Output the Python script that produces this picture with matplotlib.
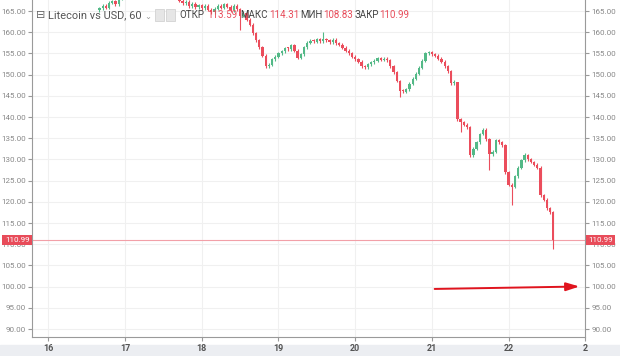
import numpy as np
import matplotlib.pyplot as plt
from matplotlib.patches import Rectangle

# hourly closes, LTC/USD, starting day 16 at 16:00
start_day = 16 + 16 / 24
closes = [
    165.6, 166.3, 165.8, 166.9, 167.3, 166.6,
    167.9, 168.5, 168.2, 169.0, 169.4, 168.8, 169.6, 170.1, 169.5, 170.3,
    170.8, 170.2, 169.7, 170.4, 169.9, 169.1, 169.6, 168.7, 168.1, 167.4,
    166.8, 167.2, 166.1, 166.7, 165.9, 166.4, 165.6, 166.2, 165.3,
    164.7, 165.5, 166.2, 165.8, 166.6, 166.0, 165.2, 166.3, 165.4, 163.9, 164.6,
    163.0, 161.8, 159.8, 158.1, 156.5, 154.4, 152.0,
    152.3, 153.6, 154.2, 155.0, 155.5, 156.2, 156.0, 156.9,
    155.6, 154.0, 154.8,
    156.5, 157.5, 158.0, 157.8, 158.3, 157.9, 158.4,
    158.1, 157.6, 158.2, 157.4, 157.0,
    156.3, 155.6, 155.0, 154.2, 153.6, 153.0,
    152.0, 151.7, 152.4, 152.9,
    153.3, 153.9, 153.5, 153.8, 153.4,
    152.0, 150.6, 148.5, 146.2, 146.0,
    146.6, 147.8, 149.0, 150.2, 151.6,
    153.3, 155.0, 155.3, 154.8,
    154.5, 153.8, 153.0, 152.0, 150.8, 148.0,
    148.3, 139.5, 138.8, 138.2, 137.6, 131.0, 132.5, 134.0, 136.0, 137.0,
    134.8, 131.2, 131.8, 134.5, 134.0, 133.4, 127.0, 124.0, 123.6, 126.0,
    128.0, 129.8, 131.0, 130.0, 129.4, 128.8, 128.0, 121.5, 120.5, 118.5,
    117.6, 110.99,
]
first_open = 165.2
long_lows = {44: 160.5, 94: 144.8, 113: 136.5, 122: 127.5, 129: 119.2, 142: 108.83}
long_highs = {70: 160.0, 112: 141.5, 133: 131.6}

last_price = 110.99
day_ticks = [16, 17, 18, 19, 20, 21, 22, 23]
day_labels = ['16', '17', '18', '19', '20', '21', '22', '2']
price_ticks = np.arange(90, 166, 5)

# hint arrow (drawn on the screenshot)
arrow_from = (21.0, 99.45)
arrow_to = (22.96, 100.05)

up_col = '#53b987'
down_col = '#eb4d5c'
hdr_font = 'Roboto'

c = np.array(closes)
o = np.concatenate([[first_open], c[:-1]])
t = start_day + np.arange(len(c)) / 24
hi = np.maximum(o, c) + 0.35
lo = np.minimum(o, c) - 0.35
for k, v in long_lows.items():
    lo[k] = v
for k, v in long_highs.items():
    hi[k] = v
cols = [up_col if cc >= oo else down_col for oo, cc in zip(o, c)]

fig = plt.figure(figsize=(6.2, 3.56), dpi=100)
fig.patches.append(Rectangle((0, 0), 1, 0.03, transform=fig.transFigure,
                             color='#eceef2', zorder=-5))
ax = fig.add_axes([0.052, 0.053, 0.892, 0.947])

ax.vlines(t, lo, hi, colors=cols, linewidth=0.8, zorder=3)
body = np.where(np.abs(c - o) < 0.2, 0.2, c - o)
ax.bar(t, body, bottom=o, width=0.03, color=cols, linewidth=0, zorder=4)

ax.axhline(last_price, color='#f2a0a8', linewidth=0.8, zorder=2)

ax.set_xlim(15.79, 22.98)
ax.set_ylim(88.1, 167.6)
ax.set_xticks(day_ticks)
ax.set_xticklabels(day_labels, fontfamily=hdr_font, fontweight='bold')
ax.set_yticks(price_ticks)
ax.set_yticklabels([f'{p:.2f}' for p in price_ticks], fontfamily=hdr_font)
ax.grid(True, color='#f0f0f0', linewidth=0.8)
ax.set_axisbelow(True)

ax.tick_params(axis='y', labelsize=5.8, colors='#999999', labelcolor='#888888',
               left=True, right=True, labelleft=True, labelright=True, length=3, pad=1.5)
ax.tick_params(axis='x', labelsize=6.5, colors='#999999', labelcolor='#555555', length=3, pad=2)
for s in ['left', 'right', 'bottom']:
    ax.spines[s].set_color('#9a9a9a')
ax.spines['top'].set_visible(False)

# price labels on both axes
for xa, ha in [(0.0, 'right'), (1.0, 'left')]:
    ax.annotate(f'{last_price:.2f}', xy=(xa, last_price), xycoords=('axes fraction', 'data'),
                xytext=(-2 if ha == 'right' else 2, 0), textcoords='offset points',
                ha=ha, va='center', fontsize=5.8, color='white', fontfamily=hdr_font,
                bbox=dict(boxstyle='square,pad=0.3', fc='#e84c5a', ec='none'), zorder=10)

ax.annotate('', xy=arrow_to, xytext=arrow_from,
            arrowprops=dict(arrowstyle='-|>,head_length=0.8,head_width=0.25',
                            color='#e0141e', lw=1.4), zorder=6)

# header
fig.text(0.058, 0.958, '⊟', fontsize=8, color='#666666', va='center')
fig.text(0.078, 0.958, 'Litecoin vs USD, 60', fontsize=7.9, color='#555555', va='center',
         fontfamily=hdr_font)
fig.text(0.232, 0.955, '⌄', fontsize=6, color='#999999', va='center')
fig.patches.append(Rectangle((0.250, 0.942), 0.015, 0.034, transform=fig.transFigure,
                             fc='#e6e6e6', ec='#cccccc', lw=0.5))
fig.patches.append(Rectangle((0.268, 0.942), 0.015, 0.034, transform=fig.transFigure,
                             fc='#e6e6e6', ec='#cccccc', lw=0.5))
hdr = [('ОТКР', '113.59', 0.290, 0.334),
       ('МАКС', '114.31', 0.388, 0.434),
       ('МИН', '108.83', 0.484, 0.522),
       ('ЗАКР', '110.99', 0.572, 0.612)]
for lab, val, xl, xv in hdr:
    fig.text(xl, 0.958, lab, fontsize=7, color='#444444', va='center', fontfamily=hdr_font)
    fig.text(xv, 0.958, val, fontsize=7, color='#e84c5a', va='center', fontfamily=hdr_font)

fig.savefig('out.png', dpi=100)
